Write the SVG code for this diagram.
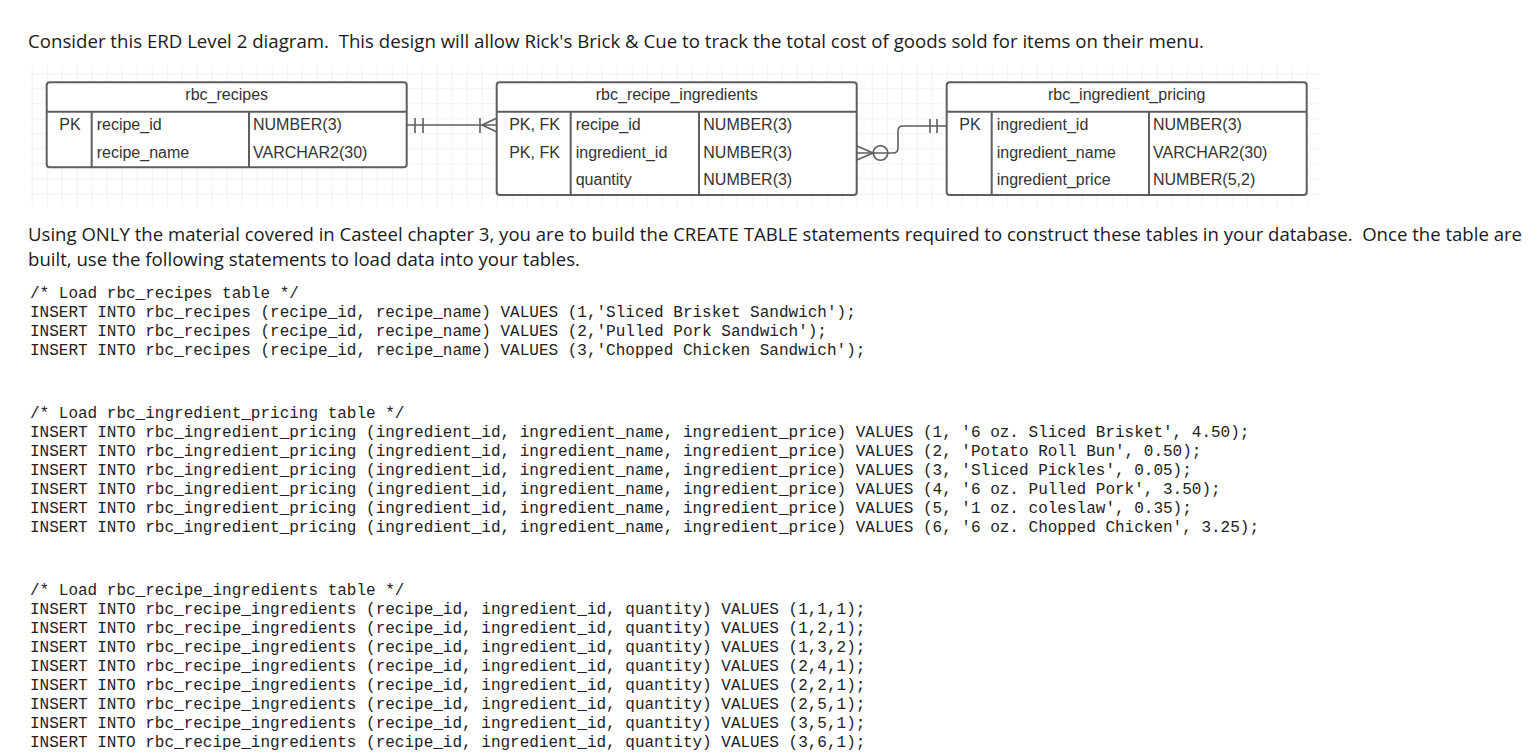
<svg xmlns="http://www.w3.org/2000/svg" width="1537" height="754" viewBox="0 0 1537 754">
<style>
.para{font-family:"Open Sans","Noto Sans",sans-serif;font-size:19px;fill:#1a1a1a;white-space:pre}
.code{font-family:"Liberation Mono","Courier New",monospace;font-size:16px;fill:#222;white-space:pre}
.tbl{fill:#fff;stroke:#5e5e5e;stroke-width:2}
.div{stroke:#5e5e5e;stroke-width:2;fill:none}
.t{font-family:"Liberation Sans",Arial,sans-serif;font-size:16px;fill:#333}
.c{text-anchor:middle}
.con{stroke:#5e5e5e;stroke-width:1.6;fill:none}
</style>
<defs>
<pattern id="grid" x="46.7" y="73.3" width="15" height="15" patternUnits="userSpaceOnUse">
<path d="M0 0H15M0 0V15" stroke="#e4e4e4" stroke-width="1" fill="none"/>
</pattern>
</defs>
<rect width="1537" height="754" fill="#fff"/>
<text class="para" x="28" y="48" textLength="1176" lengthAdjust="spacingAndGlyphs">Consider this ERD Level 2 diagram.  This design will allow Rick's Brick &amp; Cue to track the total cost of goods sold for items on their menu.</text>
<rect x="30" y="66" width="1290" height="140" fill="url(#grid)"/>
<g id="connectors">
<path class="con" d="M407 125H497"/>
<path class="con" d="M415 118V133M423 118V133"/>
<path class="con" d="M480 118V133M482 125L497 118M482 125L497 132"/>
<path class="con" d="M857 153H893Q898 153 898 148V131Q898 126 903 126H947"/>
<path class="con" d="M857 146L873 153L857 160"/>
<circle class="con" cx="880.5" cy="153" r="7.3" fill="#fff"/>
<path class="con" d="M930 119V133M937 119V133"/>
</g>
<g id="rbc_recipes">
<rect class="tbl" x="46.7" y="82.3" width="360" height="85" rx="3"/>
<path class="div" d="M46.7 111.7H406.7M91.7 111.7V167.3M249 111.7V167.3"/>
<text class="t c" x="226.7" y="100">rbc_recipes</text>
<text class="t c" x="70" y="130">PK</text>
<text class="t" x="96.7" y="130">recipe_id</text>
<text class="t" x="253" y="130">NUMBER(3)</text>
<text class="t" x="96.7" y="157.5">recipe_name</text>
<text class="t" x="253" y="157.5">VARCHAR2(30)</text>
</g>
<g id="rbc_recipe_ingredients">
<rect class="tbl" x="496.7" y="82.3" width="360" height="112.7" rx="3"/>
<path class="div" d="M496.7 111.7H856.7M570.7 111.7V195M699 111.7V195"/>
<text class="t c" x="676.7" y="100">rbc_recipe_ingredients</text>
<text class="t c" x="534.5" y="130">PK, FK</text>
<text class="t c" x="534.5" y="157.5">PK, FK</text>
<text class="t" x="575.7" y="130">recipe_id</text>
<text class="t" x="575.7" y="157.5">ingredient_id</text>
<text class="t" x="575.7" y="184.5">quantity</text>
<text class="t" x="703.3" y="130">NUMBER(3)</text>
<text class="t" x="703.3" y="157.5">NUMBER(3)</text>
<text class="t" x="703.3" y="184.5">NUMBER(3)</text>
</g>
<g id="rbc_ingredient_pricing">
<rect class="tbl" x="946.7" y="82.3" width="360" height="112.7" rx="3"/>
<path class="div" d="M946.7 111.7H1306.7M991.7 111.7V195M1149 111.7V195"/>
<text class="t c" x="1126.7" y="100">rbc_ingredient_pricing</text>
<text class="t c" x="970" y="130">PK</text>
<text class="t" x="996.7" y="130">ingredient_id</text>
<text class="t" x="996.7" y="157.5">ingredient_name</text>
<text class="t" x="996.7" y="184.5">ingredient_price</text>
<text class="t" x="1153" y="130">NUMBER(3)</text>
<text class="t" x="1153" y="157.5">VARCHAR2(30)</text>
<text class="t" x="1153" y="184.5">NUMBER(5,2)</text>
</g>
<text class="para" x="28" y="241" textLength="1494" lengthAdjust="spacingAndGlyphs">Using ONLY the material covered in Casteel chapter 3, you are to build the CREATE TABLE statements required to construct these tables in your database.  Once the table are</text>
<text class="para" x="28" y="266" textLength="552" lengthAdjust="spacingAndGlyphs">built, use the following statements to load data into your tables.</text>
<g class="code">
<text class="code" x="30" y="298">/* Load rbc_recipes table */</text>
<text class="code" x="30" y="317">INSERT INTO rbc_recipes (recipe_id, recipe_name) VALUES (1,'Sliced Brisket Sandwich');</text>
<text class="code" x="30" y="336">INSERT INTO rbc_recipes (recipe_id, recipe_name) VALUES (2,'Pulled Pork Sandwich');</text>
<text class="code" x="30" y="355">INSERT INTO rbc_recipes (recipe_id, recipe_name) VALUES (3,'Chopped Chicken Sandwich');</text>
<text class="code" x="30" y="418">/* Load rbc_ingredient_pricing table */</text>
<text class="code" x="30" y="437">INSERT INTO rbc_ingredient_pricing (ingredient_id, ingredient_name, ingredient_price) VALUES (1, '6 oz. Sliced Brisket', 4.50);</text>
<text class="code" x="30" y="456">INSERT INTO rbc_ingredient_pricing (ingredient_id, ingredient_name, ingredient_price) VALUES (2, 'Potato Roll Bun', 0.50);</text>
<text class="code" x="30" y="475">INSERT INTO rbc_ingredient_pricing (ingredient_id, ingredient_name, ingredient_price) VALUES (3, 'Sliced Pickles', 0.05);</text>
<text class="code" x="30" y="494">INSERT INTO rbc_ingredient_pricing (ingredient_id, ingredient_name, ingredient_price) VALUES (4, '6 oz. Pulled Pork', 3.50);</text>
<text class="code" x="30" y="513">INSERT INTO rbc_ingredient_pricing (ingredient_id, ingredient_name, ingredient_price) VALUES (5, '1 oz. coleslaw', 0.35);</text>
<text class="code" x="30" y="532">INSERT INTO rbc_ingredient_pricing (ingredient_id, ingredient_name, ingredient_price) VALUES (6, '6 oz. Chopped Chicken', 3.25);</text>
<text class="code" x="30" y="595">/* Load rbc_recipe_ingredients table */</text>
<text class="code" x="30" y="614">INSERT INTO rbc_recipe_ingredients (recipe_id, ingredient_id, quantity) VALUES (1,1,1);</text>
<text class="code" x="30" y="633">INSERT INTO rbc_recipe_ingredients (recipe_id, ingredient_id, quantity) VALUES (1,2,1);</text>
<text class="code" x="30" y="652">INSERT INTO rbc_recipe_ingredients (recipe_id, ingredient_id, quantity) VALUES (1,3,2);</text>
<text class="code" x="30" y="671">INSERT INTO rbc_recipe_ingredients (recipe_id, ingredient_id, quantity) VALUES (2,4,1);</text>
<text class="code" x="30" y="690">INSERT INTO rbc_recipe_ingredients (recipe_id, ingredient_id, quantity) VALUES (2,2,1);</text>
<text class="code" x="30" y="709">INSERT INTO rbc_recipe_ingredients (recipe_id, ingredient_id, quantity) VALUES (2,5,1);</text>
<text class="code" x="30" y="728">INSERT INTO rbc_recipe_ingredients (recipe_id, ingredient_id, quantity) VALUES (3,5,1);</text>
<text class="code" x="30" y="747">INSERT INTO rbc_recipe_ingredients (recipe_id, ingredient_id, quantity) VALUES (3,6,1);</text>
</g>
</svg>
